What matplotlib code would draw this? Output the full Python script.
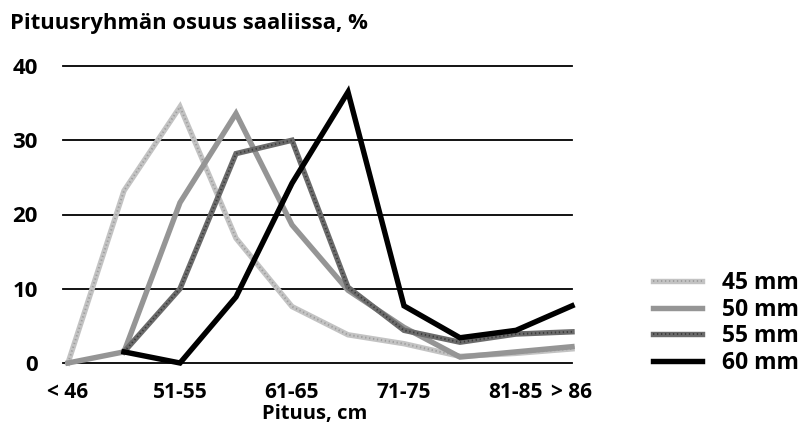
import matplotlib
matplotlib.use("Agg")
import matplotlib.pyplot as plt
from matplotlib.legend_handler import HandlerTuple

plt.rcParams['font.family'] = ['Open Sans', 'DejaVu Sans']

# Length classes (cm) and the labels shown under the axis
categories = ["< 46", "46-50", "51-55", "56-60", "61-65", "66-70",
              "71-75", "76-80", "81-85", "> 86"]
tick_labels = ["< 46", "", "51-55", "", "61-65", "", "71-75", "", "81-85", "> 86"]

# Share of each length class in the catch (%), by mesh size
mesh_sizes = ["45 mm", "50 mm", "55 mm", "60 mm"]
share_45 = [0, 23.2, 34.5, 16.8, 7.6, 3.8, 2.6, 0.9, 1.3, 1.9]
share_50 = [0, 1.5, 21.6, 33.6, 18.6, 9.8, 4.8, 0.8, 1.5, 2.2]
share_55 = [None, 1.5, 10.0, 28.2, 30.0, 10.2, 4.4, 2.8, 3.9, 4.2]
share_60 = [None, 1.5, 0.0, 8.9, 24.2, 36.5, 7.7, 3.4, 4.4, 7.7]

W, H = 803, 425
fig = plt.figure(figsize=(W / 100, H / 100), dpi=100)
ax = fig.add_axes([63 / W, (H - 363) / H, (572 - 63) / W, (363 - 66) / H])

x = list(range(len(categories)))
ax.set_xlim(-5 / 56, len(categories) - 1)
ax.set_ylim(0, 40)

for v in [0, 10, 20, 30, 40]:
    ax.axhline(v, color="black", lw=1.3, zorder=1, clip_on=False)

def series(vals):
    xs = [i for i, v in zip(x, vals) if v is not None]
    ys = [v for v in vals if v is not None]
    return xs, ys

styles = [
    # (base colour, texture colour or None)
    ("#c3c3c3", "#9e9e9e"),
    ("#959595", None),
    ("#6b6b6b", "#3c3c3c"),
    ("#000000", None),
]
lw = 3.9
handles = []
for k, (vals, (base, tex)) in enumerate(zip([share_45, share_50, share_55, share_60],
                                            styles)):
    xs, ys = series(vals)
    z = 3 + k * 0.1
    (l1,) = ax.plot(xs, ys, color=base, lw=lw, solid_joinstyle="miter",
                    zorder=z, clip_on=False)
    group = [l1]
    if tex is not None:
        (l2,) = ax.plot(xs, ys, color=tex, lw=lw * 0.35, linestyle=(0, (0.7, 1.4)),
                        zorder=z + 0.01, clip_on=False)
        group.append(l2)
    handles.append(tuple(group))

for s in ax.spines.values():
    s.set_visible(False)
ax.tick_params(length=0)
ax.set_xticks(x)
ax.set_xticklabels(tick_labels, fontsize=15, fontweight="bold")
ax.tick_params(axis="x", pad=14)
ax.set_yticks([0, 10, 20, 30, 40])
ax.set_yticklabels(["0", "10", "20", "30", "40"], fontsize=16, fontweight="bold")
ax.tick_params(axis="y", pad=18)

fig.text(10 / W, 1 - 23 / H, "Pituusryhmän osuus saaliissa, %",
         fontsize=15.8, fontweight="bold", va="center", ha="left")
fig.text(315 / W, 1 - 414 / H, "Pituus, cm", fontsize=14.5,
         fontweight="bold", va="center", ha="center")

fig.legend(handles, mesh_sizes, loc="upper left",
           bbox_to_anchor=(653 / W, 1 - 271 / H),
           handler_map={tuple: HandlerTuple(ndivide=1, pad=0)},
           frameon=False, prop={"weight": "bold", "size": 16.5},
           handlelength=2.15, handletextpad=0.85, labelspacing=0.12,
           borderpad=0, borderaxespad=0)

fig.savefig("out.png", dpi=100)
